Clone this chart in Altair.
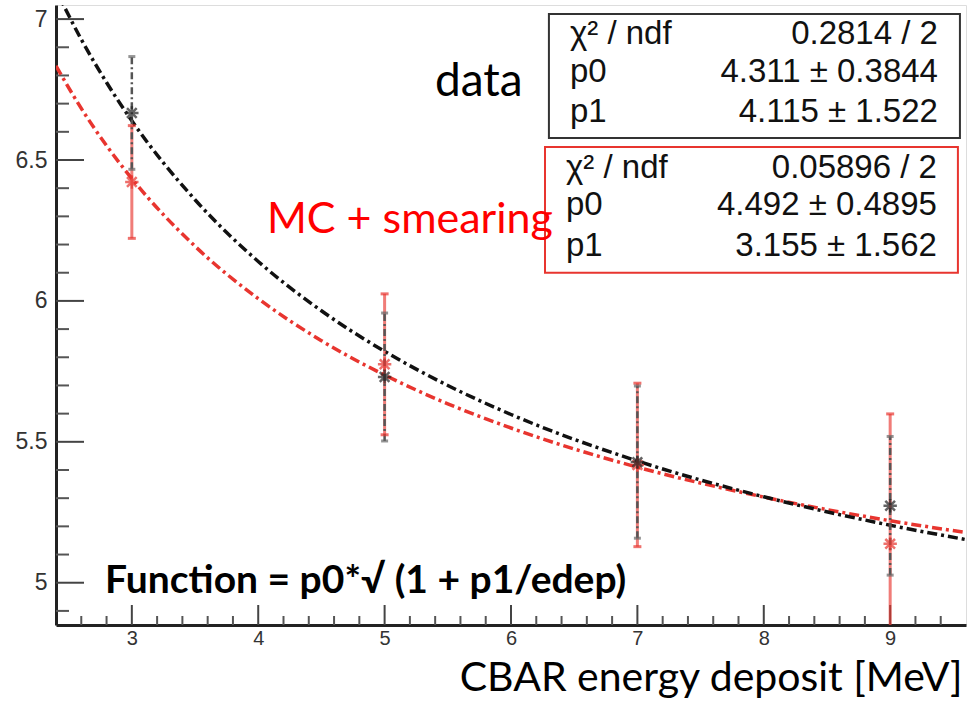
import altair as alt
import pandas as pd

# ---------------- data ----------------
energy = [3, 5, 7, 9]
data_val = [6.667, 5.730, 5.428, 5.273]
data_err = [0.200, 0.227, 0.270, 0.246]
mc_val = [6.422, 5.775, 5.418, 5.138]
mc_err = [0.200, 0.250, 0.290, 0.461]

curve_x = [2.4, 2.6, 2.8, 3.0, 3.5, 4.0, 4.5, 5.0, 5.5, 6.0, 7.0, 8.0, 9.0, 9.6]
data_fit = [7.103, 6.928, 6.775, 6.639, 6.359, 6.140, 5.965, 5.821, 5.700, 5.597, 5.432, 5.305, 5.204, 5.153]
mc_fit = [6.834, 6.683, 6.551, 6.434, 6.194, 6.008, 5.859, 5.737, 5.635, 5.549, 5.410, 5.304, 5.220, 5.178]

x_major = [3, 4, 5, 6, 7, 8, 9]
x_minor = [2.6, 2.8, 3.2, 3.4, 3.6, 3.8, 4.2, 4.4, 4.6, 4.8, 5.2, 5.4, 5.6, 5.8,
           6.2, 6.4, 6.6, 6.8, 7.2, 7.4, 7.6, 7.8, 8.2, 8.4, 8.6, 8.8, 9.2, 9.4]
y_major = [5, 5.5, 6, 6.5, 7]
y_minor = [4.9, 5.1, 5.2, 5.3, 5.4, 5.6, 5.7, 5.8, 5.9, 6.1, 6.2, 6.3, 6.4,
           6.6, 6.7, 6.8, 6.9]

stat_labels = ["χ² / ndf", "p0", "p1"]
data_stats = ["0.2814 / 2", "4.311 ± 0.3844", "4.115 ± 1.522"]
mc_stats = ["0.05896 / 2", "4.492 ± 0.4895", "3.155 ± 1.562"]

# ---------------- layout (data coordinates) ----------------
RED = "#e8352f"
xs = alt.Scale(domain=[2.4, 9.6], nice=False, zero=False)
ys = alt.Scale(domain=[4.85, 7.05], nice=False, zero=False)

data_box = {"x": 6.300, "x2": 9.552, "y": 7.018, "y2": 6.578}
mc_box = {"x": 6.269, "x2": 9.536, "y": 6.546, "y2": 6.100}
data_rows_y = [6.912, 6.777, 6.635]
mc_rows_y = [6.437, 6.305, 6.160]
label_x_data, value_x_data = 6.466, 9.378
label_x_mc, value_x_mc = 6.435, 9.370

# ---------------- tables ----------------
pts = pd.DataFrame({
    "x": energy * 2,
    "y": data_val + mc_val,
    "lo": [v - e for v, e in zip(data_val, data_err)] + [v - e for v, e in zip(mc_val, mc_err)],
    "hi": [v + e for v, e in zip(data_val, data_err)] + [v + e for v, e in zip(mc_val, mc_err)],
    "s": ["data"] * 4 + ["mc"] * 4,
})
curves = pd.DataFrame({"x": curve_x * 2, "y": data_fit + mc_fit,
                       "s": ["data"] * len(curve_x) + ["mc"] * len(curve_x)})

X = lambda f="x": alt.X(f"{f}:Q", scale=xs, axis=None)
Y = lambda f="y": alt.Y(f"{f}:Q", scale=ys, axis=None)

# axes (labels only; ticks drawn as rules to point inward)
axes = alt.Chart(pd.DataFrame({"x": [2.4], "y": [4.85]})).mark_point(opacity=0).encode(
    x=alt.X("x:Q", scale=xs, axis=alt.Axis(
        values=x_major, ticks=False, grid=False, domain=True, domainColor="#222",
        domainWidth=3, labelFont="Liberation Sans", labelFontSize=20, labelColor="#333",
        labelPadding=3, format="d", title="CBAR energy deposit [MeV]", titleFont="Lato",
        titleFontSize=41, titleFontWeight="normal", titleColor="#000", titleAnchor="end",
        titleAlign="right", titleX=906, titleY=65, titleBaseline="alphabetic")),
    y=alt.Y("y:Q", scale=ys, axis=alt.Axis(
        values=y_major, ticks=False, grid=False, domain=True, domainColor="#222",
        domainWidth=3, labelFont="Liberation Sans", labelFontSize=23, labelColor="#333",
        labelPadding=9, format=".1~f", title=None)),
)

ymaj = alt.Chart(pd.DataFrame({"y": y_major})).mark_rule(color="#444", strokeWidth=2).encode(
    y=Y(), x=alt.value(0), x2=alt.value(28))
ymin = alt.Chart(pd.DataFrame({"y": y_minor})).mark_rule(color="#555", strokeWidth=2).encode(
    y=Y(), x=alt.value(0), x2=alt.value(13))
xmaj = alt.Chart(pd.DataFrame({"x": x_major})).mark_rule(color="#444", strokeWidth=2).encode(
    x=X(), y=alt.value(620), y2=alt.value(600))
xmin = alt.Chart(pd.DataFrame({"x": x_minor})).mark_rule(color="#555", strokeWidth=2).encode(
    x=X(), y=alt.value(620), y2=alt.value(611))

dash = [10, 4, 3, 4]
fit_data = alt.Chart(curves[curves.s == "data"]).mark_line(
    color="#111", strokeWidth=3.5, strokeDash=dash, interpolate="monotone", clip=True).encode(x=X(), y=Y())
fit_mc = alt.Chart(curves[curves.s == "mc"]).mark_line(
    color=RED, strokeWidth=3.5, strokeDash=dash, interpolate="monotone", clip=True).encode(x=X(), y=Y())

dpts = pts[pts.s == "data"]
mpts = pts[pts.s == "mc"]

err_mc = alt.Chart(mpts).mark_rule(color=RED, strokeWidth=3, opacity=0.65, clip=True).encode(
    x=X(), y=Y("lo"), y2="hi:Q")
cap_mc = alt.Chart(mpts).transform_fold(["lo", "hi"], as_=["k", "v"]).mark_tick(
    color=RED, orient="horizontal", size=8, thickness=3, opacity=0.7, clip=True).encode(x=X(), y=Y("v"))
err_d = alt.Chart(dpts).mark_rule(color="#555", strokeWidth=2.5, strokeDash=[7, 3, 2, 3], clip=True).encode(
    x=X(), y=Y("lo"), y2="hi:Q")
cap_d = alt.Chart(dpts).transform_fold(["lo", "hi"], as_=["k", "v"]).mark_tick(
    color="#666", orient="horizontal", size=7, thickness=3, clip=True).encode(x=X(), y=Y("v"))

star = "M-1,0L1,0M0,-1L0,1M-0.72,-0.72L0.72,0.72M-0.72,0.72L0.72,-0.72"
star_d = alt.Chart(dpts).mark_point(shape=star, filled=False, color="#222", size=180,
                                    strokeWidth=2.5).encode(x=X(), y=Y())
star_m = alt.Chart(mpts).mark_point(shape=star, filled=False, color=RED, size=180,
                                    strokeWidth=2.5).encode(x=X(), y=Y())

boxes = alt.Chart(pd.DataFrame([dict(data_box, c="#333"), dict(mc_box, c=RED)])).mark_rect(
    fill="white", strokeWidth=2).encode(
    x=X(), x2="x2:Q", y=Y(), y2="y2:Q", stroke=alt.Stroke("c:N", scale=None))

stat_df = pd.DataFrame({
    "lx": [label_x_data] * 3 + [label_x_mc] * 3,
    "vx": [value_x_data] * 3 + [value_x_mc] * 3,
    "y": data_rows_y + mc_rows_y,
    "label": stat_labels * 2,
    "value": data_stats + mc_stats,
})
stat_lab = alt.Chart(stat_df).mark_text(
    font="Liberation Sans", fontSize=33, align="left", baseline="alphabetic", color="#111").encode(
    x=X("lx"), y=Y(), text="label:N")
stat_val = alt.Chart(stat_df).mark_text(
    font="Liberation Sans", fontSize=33, align="right", baseline="alphabetic", color="#111").encode(
    x=X("vx"), y=Y(), text="value:N")

notes = pd.DataFrame({
    "x": [5.398, 4.069],
    "y": [6.727, 6.242],
    "t": ["data", "MC + smearing"],
    "c": ["#000", "#ff0000"],
    "fs": [46, 43],
})
note_txt = alt.Chart(notes).mark_text(
    font="Lato", align="left", baseline="alphabetic").encode(
    x=X(), y=Y(), text="t:N", color=alt.Color("c:N", scale=None),
    size=alt.Size("fs:Q", scale=None))
func_txt = alt.Chart(pd.DataFrame({"x": [2.788], "y": [4.965],
                                   "t": ["Function = p0*√ (1 + p1/edep)"]})).mark_text(
    font="Lato", fontSize=39, fontWeight="bold", align="left", baseline="alphabetic",
    color="#000").encode(x=X(), y=Y(), text="t:N")

chart = alt.layer(
    axes, ymin, ymaj, xmin, xmaj, fit_mc, fit_data,
    err_mc, err_d, cap_mc, cap_d, star_m, star_d,
    boxes, stat_lab, stat_val, note_txt, func_txt,
).resolve_axis(x="independent", y="independent").properties(
    width=910, height=620,
    padding={"left": 56, "top": 5, "right": 1, "bottom": 76},
    autosize=alt.AutoSizeParams(type="none"),
).configure_view(stroke="#777", strokeWidth=2).configure(background="white")

chart.save("out.html", embed_options={"renderer": "svg", "actions": False})
